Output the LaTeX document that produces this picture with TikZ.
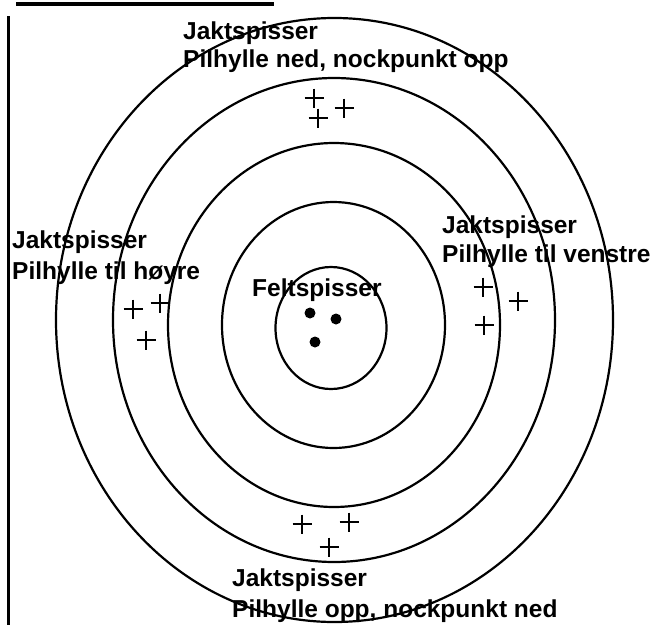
\documentclass[tikz,border=0pt]{standalone}
\usepackage{fontspec}
\setmainfont{Liberation Sans}
\begin{document}
\begin{tikzpicture}[x=1pt,y=-1pt,
  ring/.style={draw=black, line width=2.2pt},
  lbl/.style={anchor=base west, inner sep=0pt, text=black,
    font=\fontsize{24.5pt}{29pt}\selectfont\bfseries},
  hitmark/.pic={\draw[line width=2.3pt] (-9.5,0) -- (9.5,0) (0,-9.5) -- (0,9.5);},
  dotmark/.style={circle, fill=black, minimum size=11pt, inner sep=0pt}]
\useasboundingbox (0,0) rectangle (654,625);
\fill[white] (0,0) rectangle (654,625);
\begin{scope}
\clip (0,0) rectangle (654,625);
% heading underline and frame line
\draw[line width=3.5pt] (16,4) -- (274,4);
\draw[line width=2.5pt] (8.5,16) -- (8.5,625);
% rings
\draw[ring] (331,328)   ellipse [x radius=55.5,  y radius=61];
\draw[ring] (333.5,325) ellipse [x radius=111.5, y radius=123];
\draw[ring] (334,325)   ellipse [x radius=166,   y radius=182];
\draw[ring] (334,320)   ellipse [x radius=221,   y radius=242];
\draw[ring] (334.5,320) ellipse [x radius=278.5, y radius=302];
\end{scope}
% hits
\pic at (314,98) {hitmark};
\pic at (344,108) {hitmark};
\pic at (318,118) {hitmark};
\pic at (133,309) {hitmark};
\pic at (160,303) {hitmark};
\pic at (146,340) {hitmark};
\pic at (483,287) {hitmark};
\pic at (518,301) {hitmark};
\pic at (484,325) {hitmark};
\pic at (302,524) {hitmark};
\pic at (349,522) {hitmark};
\pic at (329,547) {hitmark};
\node[dotmark] (d1) at (310,313) {};
\node[dotmark] (d2) at (336,319) {};
\node[dotmark] (d3) at (315,342) {};
% labels
\node[lbl] (topA) at (183,39) {Jaktspisser};
\node[lbl] (topB) at (183,67) {Pilhylle ned, nockpunkt opp};
\node[lbl] (leftA) at (12,248) {Jaktspisser};
\node[lbl] (leftB) at (12,279) {Pilhylle til høyre};
\node[lbl] (rightA) at (442,233) {Jaktspisser};
\node[lbl] (rightB) at (442,262) {Pilhylle til venstre};
\node[lbl] (botA) at (232,586) {Jaktspisser};
\node[lbl] (botB) at (232,617) {Pilhylle opp, nockpunkt ned};
\node[lbl] (felt) at (252,296) {Feltspisser};
\end{tikzpicture}
\end{document}
